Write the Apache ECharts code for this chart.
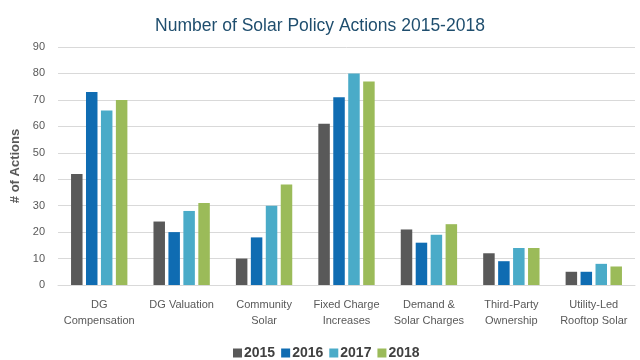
<!DOCTYPE html>
<html><head><meta charset="utf-8">
<script src="https://cdn.jsdelivr.net/npm/echarts@6/dist/echarts.min.js"></script>
<style>html,body{margin:0;padding:0;background:#fff}#c{width:640px;height:360px}</style>
</head><body><div id="c"></div>
<script>
const categories = ['DG\nCompensation','DG Valuation','Community\nSolar','Fixed Charge\nIncreases','Demand &\nSolar Charges','Third-Party\nOwnership','Utility-Led\nRooftop Solar'];
const years = ['2015','2016','2017','2018'];
const v2015 = [42,24,10,61,21,12,5];
const v2016 = [73,20,18,71,16,9,5];
const v2017 = [66,28,30,80,19,14,8];
const v2018 = [70,31,38,77,23,14,7];
const colors = ['#595959','#0f6cb2','#4aabc8','#9bbb59'];
const seriesData = [v2015,v2016,v2017,v2018];
const font = 'Liberation Sans, Arial, sans-serif';
const chart = echarts.init(document.getElementById('c'));
chart.setOption({
  animation:false,
  title:{text:'Number of Solar Policy Actions 2015-2018',left:'center',top:12,
    textStyle:{fontFamily:font,fontSize:17.5,fontWeight:'normal',color:'#1f4e6e'}},
  grid:{left:58,right:5,top:47,bottom:75},
  legend:{top:341,left:228,itemWidth:9,itemHeight:9,itemGap:6,icon:'rect',
    textStyle:{fontFamily:font,fontSize:14,fontWeight:'bold',color:'#404040',padding:[0,0,0,-3]},
    data:years},
  xAxis:{type:'category',data:categories,
    axisLine:{lineStyle:{color:'#d9d9d9'}},axisTick:{show:false},
    axisLabel:{fontFamily:font,fontSize:11,color:'#595959',lineHeight:16,margin:12,interval:0}},
  yAxis:{type:'value',min:0,max:90,interval:10,name:'# of Actions',nameLocation:'middle',nameGap:32,
    nameTextStyle:{fontFamily:font,fontSize:13,fontWeight:'bold',color:'#595959'},
    axisLabel:{fontFamily:font,fontSize:11,color:'#595959',margin:13},
    splitLine:{lineStyle:{color:'#d9d9d9'}}},
  series: years.map((y,i)=>({name:y,type:'bar',data:seriesData[i],barWidth:11.5,barGap:'30%',
    itemStyle:{color:colors[i]}}))
});
</script></body></html>
